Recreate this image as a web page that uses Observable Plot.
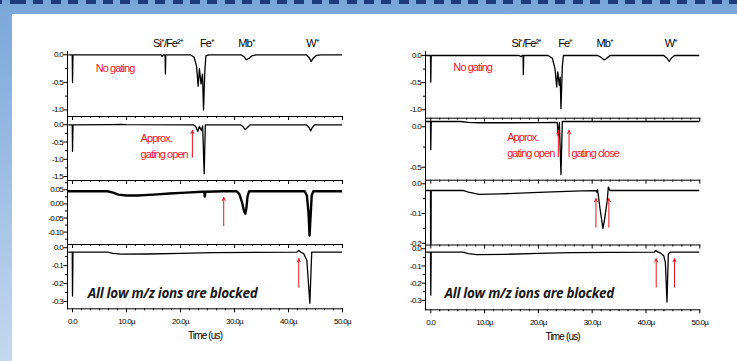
<!DOCTYPE html>
<html><head><meta charset="utf-8">
<script src="https://cdn.jsdelivr.net/npm/d3@7"></script>
<script src="https://cdn.jsdelivr.net/npm/@observablehq/plot@0.6"></script>
<style>
html,body{margin:0;padding:0;background:#fff;}
#chart{position:relative;width:737px;height:361px;overflow:hidden;background:linear-gradient(to bottom,#79a6da,#c4d8ef);}
#paper{position:absolute;left:12px;top:14px;right:0;bottom:0;background:#fff;}
#dash{position:absolute;left:0;top:0;width:737px;height:3.5px;background:repeating-linear-gradient(to right,#1d3b78 0 10px,transparent 10px 17.4px);background-position:16px 0;}
#chart svg{position:absolute;left:0;top:0;}
</style></head><body>
<div id="chart"><div id="paper"></div><div id="dash"></div></div>
<script>
// ---------- data (time in µs, signal) ----------
const xTicks = [0, 10, 20, 30, 40, 50];
const speciesLabels = ["Si⁺/Fe²⁺", "Fe⁺", "Mb⁺", "W⁺"];
const speciesT_left = [14.9, 23.6, 30.7, 43.3];
const speciesT_right = [15.0, 23.7, 30.8, 43.5];

// Left panel traces
const L1_t = [-0.7,-0.05,0,0.08,16.4,16.6,16.8,17.15,17.2,17.27,21.8,22.5,22.96,23.27,23.5,23.8,24.07,24.26,24.5,24.7,25.2,31.2,31.7,32.2,32.6,33.2,34.0,43.3,43.8,44.2,44.6,45.2,46.0,50];
const L1_v = [0,0,-0.5,0,0,-0.03,0,0,-0.35,0,0,-0.04,-0.2,-0.57,-0.25,-0.53,-0.35,-1.0,-0.3,-0.02,0,0,-0.03,-0.09,-0.07,-0.02,0,0,-0.05,-0.12,-0.06,-0.01,0,0];
const L2_t = [-0.7,-0.05,0,0.08,7,9,10,22.4,22.8,23.2,23.5,23.9,24.1,24.38,24.6,31.1,31.6,32.0,32.4,32.9,43.3,43.8,44.1,44.4,44.8,50];
const L2_v = [0,0,-0.77,0,0.005,0.01,0.005,0,-0.05,-0.19,-0.05,-0.17,-0.03,-1.42,0,0,-0.06,-0.14,-0.08,0,0,-0.08,-0.18,-0.08,0,0];
const L3_t = [-0.7,5,6.5,7.5,8.5,10,12,15,18,21,24,24.4,24.5,24.6,28,30.4,30.9,31.4,31.8,32.0,32.2,32.4,32.7,43.0,43.4,43.7,43.9,44.1,44.3,44.6,50];
const L3_v = [0.045,0.045,0.045,0.04,0.033,0.03,0.03,0.033,0.037,0.04,0.043,0.043,0.026,0.043,0.045,0.045,0.035,0.005,-0.028,-0.035,-0.015,0.025,0.045,0.045,0.03,-0.03,-0.112,-0.04,0.03,0.045,0.045];
const L4_t = [-0.7,-0.05,0,0.08,6.5,7.5,9,14,20,26,41.5,41.9,42.3,42.8,43.4,43.95,44.3,50];
const L4_v = [-0.025,-0.025,-0.27,-0.025,-0.025,-0.032,-0.036,-0.035,-0.031,-0.027,-0.025,-0.015,-0.025,-0.033,-0.07,-0.31,-0.025,-0.025];

// Right panel traces
const R1_t = [-0.9,-0.05,0,0.08,16.4,16.8,17.0,17.15,17.2,17.27,21.8,22.6,23.1,23.4,23.6,23.9,24.05,24.2,24.45,24.65,31.0,31.6,32.2,32.6,33.3,43.3,43.9,44.3,44.7,45.3,50];
const R1_v = [0,0,-0.49,0,0,-0.02,0,0,-0.35,0,0,-0.05,-0.25,-0.58,-0.3,-0.55,-0.4,-0.98,-0.2,0,0,-0.03,-0.08,-0.06,0,0,-0.05,-0.11,-0.05,0,0];
const R2_t = [-0.9,-0.05,0,0.08,5.5,7,9,15,20,23.5,23.7,23.9,24.2,24.45,50];
const R2_v = [0.065,0.065,-0.285,0.065,0.065,0.055,0.05,0.05,0.052,0.055,-0.11,0.05,-0.59,0.065,0.065];
const R3_t = [-0.9,-0.05,0,0.08,6,7,9,13,20,28,30.8,30.9,31.0,31.5,32.0,32.3,32.8,33.0,33.3,50];
const R3_v = [-0.0226,-0.0226,-0.4,-0.0226,-0.0226,-0.028,-0.036,-0.034,-0.029,-0.024,-0.023,-0.03,-0.02,-0.09,-0.15,-0.12,-0.056,-0.011,-0.0226,-0.0226];
const R4_t = [-0.9,-0.05,0,0.08,6,7,8.5,14,20,26,41.5,41.8,42.2,42.7,43.3,43.6,43.9,44.15,44.5,50];
const R4_v = [-0.02,-0.02,-0.27,-0.02,-0.02,-0.028,-0.034,-0.032,-0.027,-0.022,-0.02,-0.01,-0.018,-0.025,-0.04,-0.08,-0.31,-0.03,-0.02,-0.02];

// ---------- styling ----------
const RED = "#f0141e";
const W = 737, H = 361;
const fmt1 = d => d.toFixed(1);
const fmt2 = d => d.toFixed(2);
const xFmt = d => d === 0 ? "0.0" : d.toFixed(1) + "µ";
const xMinor = d3.range(0, 50.001, 10/6).filter(v => Math.abs(v/10 - Math.round(v/10)) > 1e-6);

const zip = (t, v) => t.map((d, i) => ({t: d, v: v[i]}));

const panels = {
  left:  {xl: 67, xr: 342, dom: [-0.93, 50]},
  right: {xl: 425, xr: 699.3, dom: [-0.98, 50]}
};

const subplots = [
  {p: "left", top: 51, bot: 116, dom: [-1.12, 0.06], ticks: [0,-0.5,-1.0], minor: [-0.25,-0.75], fmt: fmt1, data: zip(L1_t, L1_v),
   species: speciesT_left, speciesY: 0.2,
   texts: [{t: 4.3, v: -0.256, s: "No gating"}], arrows: []},
  {p: "left", top: 116, bot: 180, dom: [-1.615, 0.24], ticks: [0,-0.5,-1.0,-1.5], minor: [-0.25,-0.75,-1.25], fmt: fmt1, data: zip(L2_t, L2_v),
   texts: [{t: 12.6, v: -0.40, s: "Approx."}, {t: 12.6, v: -0.87, s: "gating open"}],
   arrows: [{t: 22.2, v1: -0.94, v2: -0.165}]},
  {p: "left", top: 180, bot: 244, dom: [-0.144, 0.083], ticks: [0.05,0,-0.05,-0.10], minor: [0.075,0.025,-0.025,-0.075,-0.125], fmt: fmt2, data: zip(L3_t, L3_v), sw: 2.4,
   texts: [], arrows: [{t: 28, v1: -0.077, v2: 0.023}]},
  {p: "left", top: 244, bot: 308.3, dom: [-0.341, 0.018], ticks: [0,-0.1,-0.2,-0.3], minor: [-0.05,-0.15,-0.25], fmt: fmt1, data: zip(L4_t, L4_v), last: true,
   bold: {t: 2.83, v: -0.257}, texts: [], arrows: [{t: 41.9, v1: -0.22, v2: -0.061}]},
  {p: "right", top: 51, bot: 117.7, dom: [-1.155, 0.074], ticks: [0,-0.5,-1.0], minor: [-0.25,-0.75], fmt: fmt1, data: zip(R1_t, R1_v),
   species: speciesT_right, speciesY: 0.22,
   texts: [{t: 4.2, v: -0.215, s: "No gating"}], arrows: []},
  {p: "right", top: 117.7, bot: 179.7, dom: [-0.66, 0.106], ticks: [0,-0.5], minor: [-0.25], fmt: fmt1, data: zip(R2_t, R2_v),
   texts: [{t: 14.2, v: -0.129, s: "Approx."}, {t: 14.2, v: -0.327, s: "gating open"}, {t: 26.15, v: -0.327, s: "gating close"}],
   arrows: [{t: 23.7, v1: -0.37, v2: -0.046}, {t: 25.7, v1: -0.37, v2: -0.046}]},
  {p: "right", top: 179.7, bot: 244.5, dom: [-0.206, 0.012], ticks: [0,-0.1,-0.2], minor: [-0.05,-0.15], fmt: fmt1, data: zip(R3_t, R3_v),
   texts: [], arrows: [{t: 30.7, v1: -0.146, v2: -0.05}, {t: 33.1, v1: -0.146, v2: -0.05}]},
  {p: "right", top: 244.5, bot: 309.3, dom: [-0.355, 0.022], ticks: [0,-0.1,-0.2,-0.3], minor: [-0.05,-0.15,-0.25], fmt: fmt1, data: zip(R4_t, R4_v), last: true,
   bold: {t: 2.55, v: -0.262}, texts: [], arrows: [{t: 41.9, v1: -0.223, v2: -0.058}, {t: 45.3, v1: -0.223, v2: -0.058}]}
];

const chart = document.getElementById("chart");

for (const s of subplots) {
  const P = panels[s.p];
  const marks = [
    Plot.ruleY(s.minor, {y: d => d, x1: P.dom[0], x2: P.dom[0], insetLeft: -2, stroke: "#000", strokeWidth: 1}),
    Plot.ruleX(xMinor, {x: d => d, y1: s.dom[0], y2: s.dom[0], insetBottom: -2, stroke: "#000", strokeWidth: 1}),
    Plot.line(s.data, {x: "t", y: "v", stroke: "#000", strokeWidth: s.sw || 1.3, clip: true}),
    Plot.arrow(s.arrows, {x1: "t", x2: "t", y1: "v1", y2: "v2", stroke: RED, strokeWidth: 1, headLength: 5, headAngle: 50}),
    Plot.text(s.texts, {x: "t", y: "v", text: "s", textAnchor: "start", fill: RED, fontSize: 11})
  ];
  if (s.species) {
    marks.push(Plot.text(speciesLabels, {x: (d, i) => s.species[i], y: () => s.speciesY, text: d => d, textAnchor: "start", fill: "#000", fontSize: 11}));
  }
  if (s.bold) {
    marks.push(Plot.text([s.bold], {x: "t", y: "v", text: () => "All low m/z ions are blocked", textAnchor: "start", fill: "#1a1a1a",
      fontSize: 13.5, fontWeight: "bold", fontStyle: "italic", fontFamily: "'Open Sans', Lato, sans-serif"}));
  }
  if (s.last) {
    marks.push(Plot.text(["Time (us)"], {frameAnchor: "bottom", text: d => d, dy: 30, fontSize: 10, fill: "#000"}));
  }
  const svg = Plot.plot({
    width: W, height: H,
    marginLeft: P.xl, marginRight: W - P.xr, marginTop: s.top, marginBottom: H - s.bot,
    x: {domain: P.dom, ticks: xTicks, tickFormat: s.last ? xFmt : () => "", tickSize: 4, tickPadding: 6, line: true, label: null},
    y: {domain: s.dom, ticks: s.ticks, tickFormat: s.fmt, tickSize: 3.5, tickPadding: 1, line: true, label: null},
    style: {background: "transparent", overflow: "visible", fontFamily: "'Liberation Sans', Arial, sans-serif", fontSize: "8px", color: "#000"},
    marks
  });
  chart.appendChild(svg);
  d3.select(svg).selectAll("text").each(function() {
    const fs = parseFloat(getComputedStyle(this).fontSize);
    const txt = this.textContent;
    this.style.letterSpacing = txt.startsWith("All low") ? "-0.3px" : (-0.085 * fs) + "px";
  });
}
</script></body></html>
